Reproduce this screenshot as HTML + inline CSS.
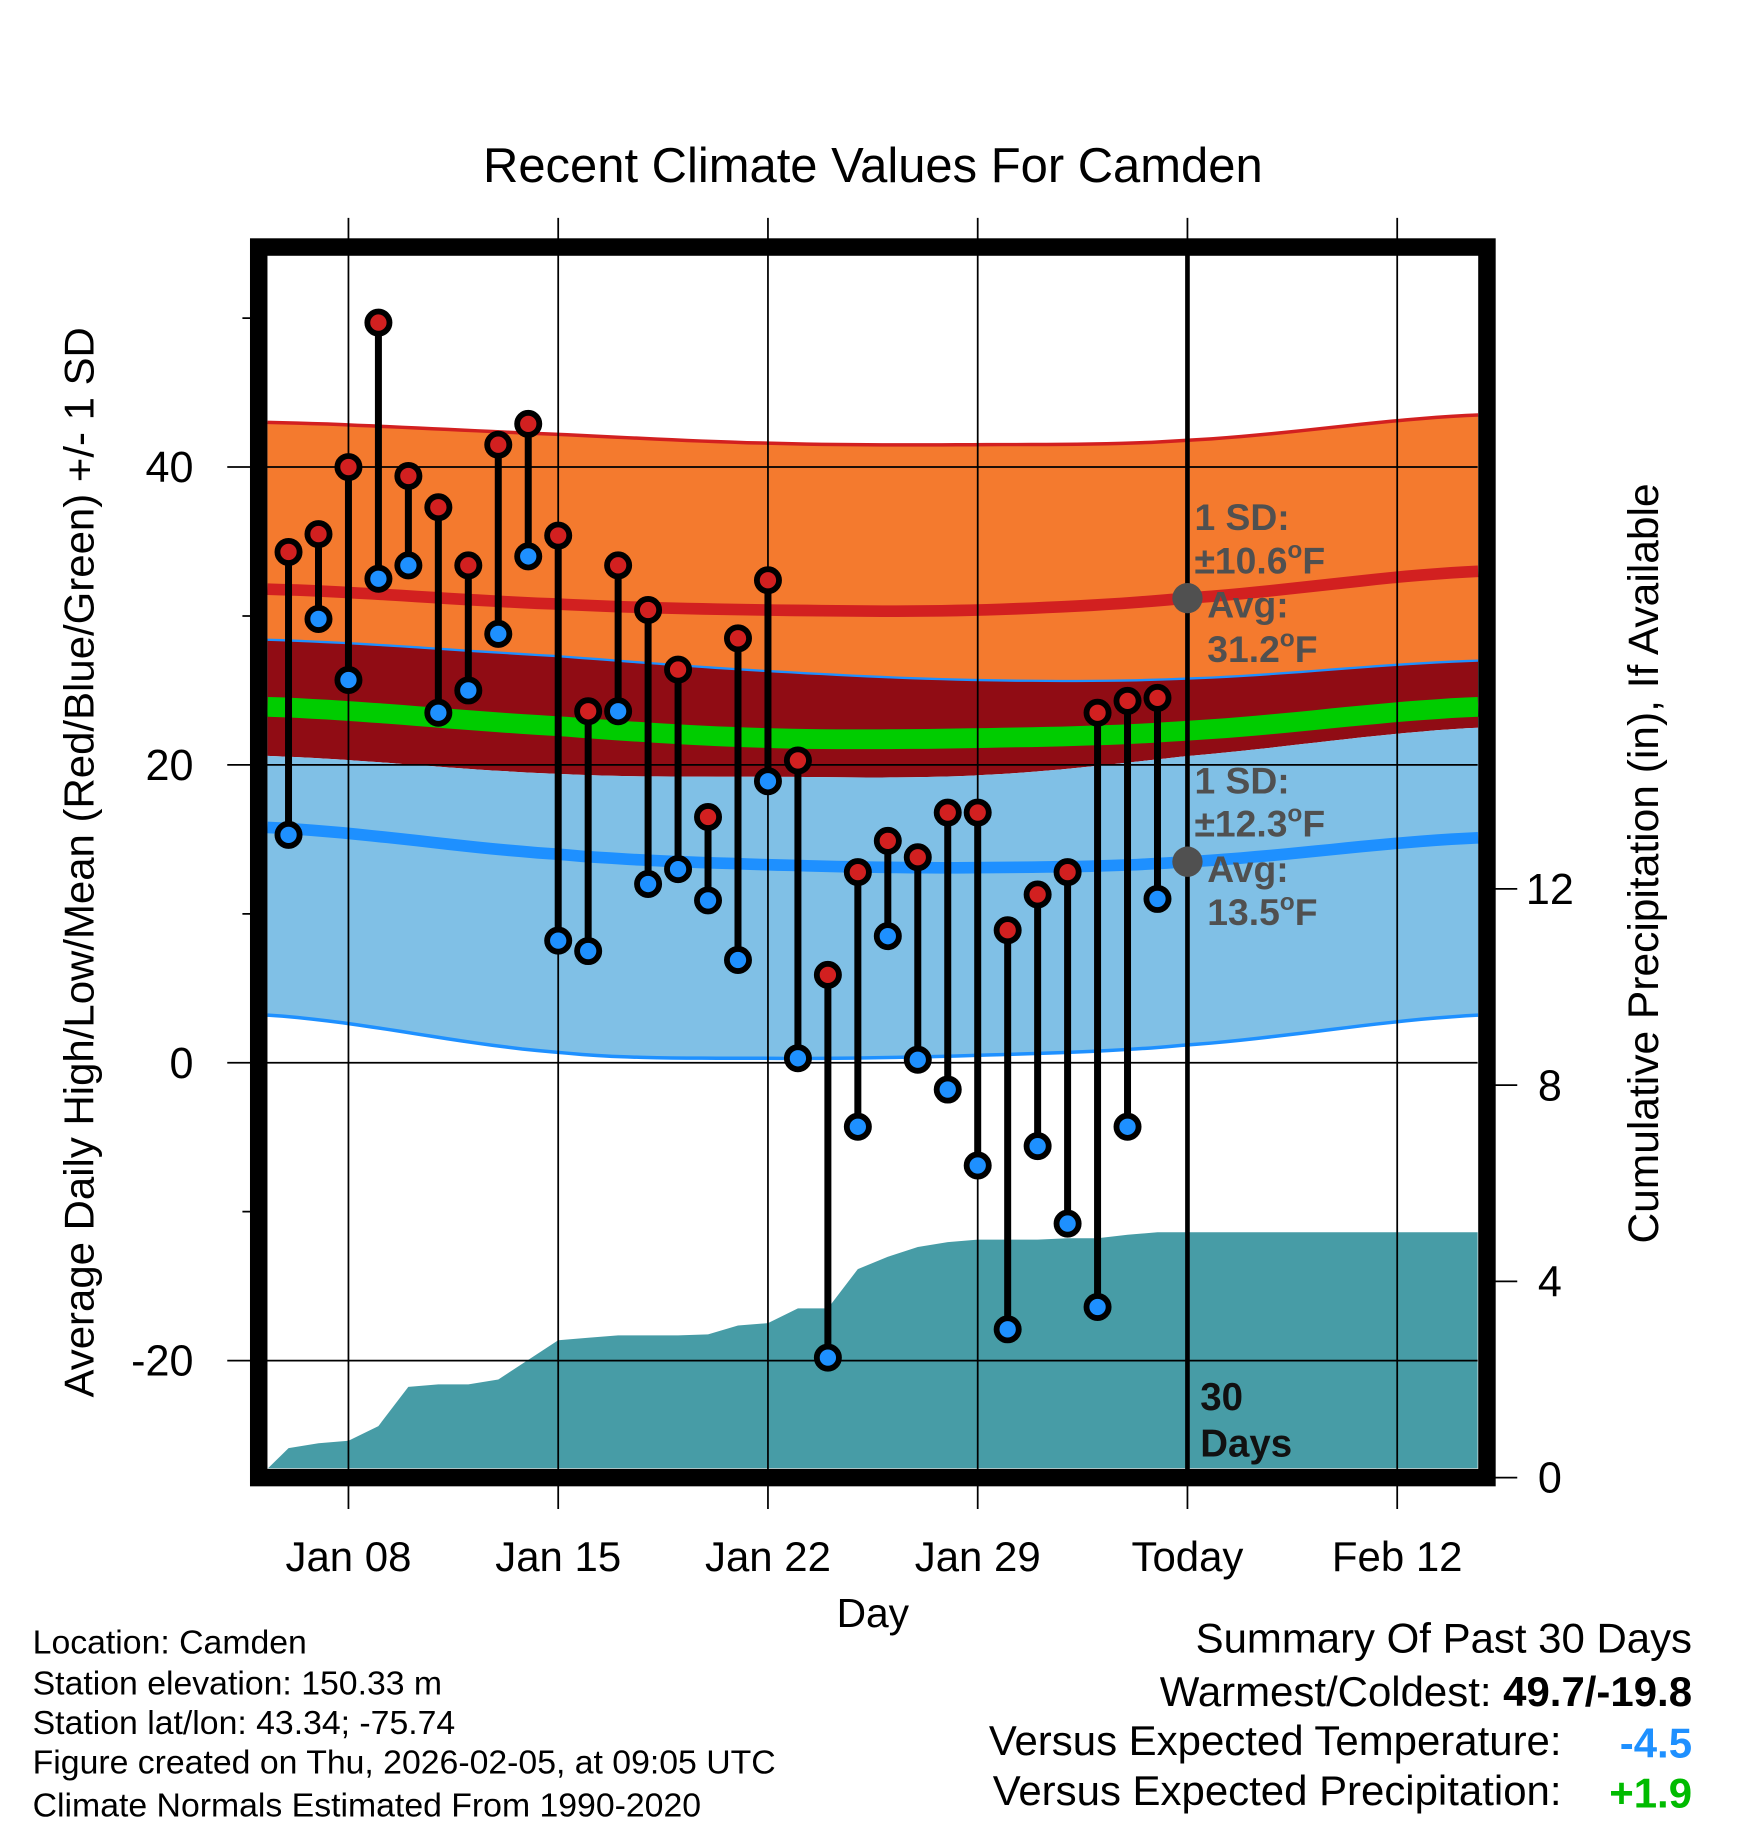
<!DOCTYPE html>
<html><head><meta charset="utf-8"><style>
html,body{margin:0;padding:0;background:#fff;}
svg{display:block;font-family:"Liberation Sans",Arial,sans-serif;}
</style></head><body>
<svg id="chart" width="1748" height="1828" viewBox="0 0 1500 1568.7" xmlns="http://www.w3.org/2000/svg">
<g id="bands"></g>
<g id="precip"></g>
<g id="grid"></g>
<g id="marks"></g>
<g id="ann"></g>
<text x="749" y="156" font-size="42" text-anchor="middle">Recent Climate Values For Camden</text>
<text transform="translate(80,740) rotate(-90)" font-size="36" text-anchor="middle">Average Daily High/Low/Mean (Red/Blue/Green) +/- 1 SD</text>
<text transform="translate(1423,741) rotate(-90)" font-size="36.5" text-anchor="middle">Cumulative Precipitation (in), If Available</text>
<text x="749" y="1396" font-size="35" text-anchor="middle">Day</text>
<g font-size="29">
<text x="28" y="1419">Location: Camden</text>
<text x="28" y="1454">Station elevation: 150.33 m</text>
<text x="28" y="1488">Station lat/lon: 43.34; -75.74</text>
<text x="28" y="1522">Figure created on Thu, 2026-02-05, at 09:05 UTC</text>
<text x="28" y="1559">Climate Normals Estimated From 1990-2020</text>
</g>
<g font-size="36" text-anchor="end">
<text x="1452" y="1418">Summary Of Past 30 Days</text>
<text x="1452" y="1464">Warmest/Coldest: <tspan font-weight="bold">49.7/-19.8</tspan></text>
<text x="1340" y="1506">Versus Expected Temperature:</text>
<text x="1452" y="1508" fill="#1e90ff" font-weight="bold">-4.5</text>
<text x="1340" y="1549">Versus Expected Precipitation:</text>
<text x="1452" y="1551" fill="#00bb00" font-weight="bold">+1.9</text>
</g>
</svg>
<script>
const dayLabels=["Jan 08","Jan 15","Jan 22","Jan 29","Today","Feb 12"];
const labelDays=[7,14,21,28,35,42];
const tempTicks=[40,20,0,-20];
const minorTicks=[50,30,10,-10];
const precipTicks=[0,4,8,12];
const obsDays=[5,6,7,8,9,10,11,12,13,14,15,16,17,18,19,20,21,22,23,24,25,26,27,28,29,30,31,32,33,34];
const highs=[34.3,35.5,40,49.7,39.4,37.3,33.4,41.5,42.9,35.4,23.6,33.4,30.4,26.4,16.5,28.5,32.4,20.3,5.9,12.8,14.9,13.8,16.8,16.8,8.9,11.3,12.8,23.5,24.3,24.5];
const lows=[15.3,29.8,25.7,32.5,33.4,23.5,25.0,28.8,34.0,8.2,7.5,23.6,12.0,13.0,10.9,6.9,18.9,0.3,-19.8,-4.3,8.5,0.2,-1.8,-6.9,-17.9,-5.6,-10.8,-16.4,-4.3,11.0];
const precipCum=[0.6,0.7,0.75,1.05,1.85,1.9,1.9,2.0,2.4,2.8,2.85,2.9,2.9,2.9,2.92,3.1,3.15,3.45,3.45,4.25,4.5,4.7,4.8,4.85,4.85,4.85,4.88,4.88,4.95,5.0];
const normDays=[4.3,14,21,28,35,44.7];
const normHighAvg=[31.8,30.8,30.4,30.4,31.2,33.0];
const normHighSD=[11.2,11.4,11.2,11.1,10.6,10.5];
const normLowAvg=[15.8,14.0,13.3,13.1,13.5,15.1];
const normLowSD=[12.6,13.3,13.0,12.6,12.3,11.9];
const normMean=[23.9,22.6,21.8,21.8,22.3,23.9];

const L=230,R=1268,T=220,B=1260;
const xS=d=>299+(d-7)*25.714;
const yS=t=>912-12.78*t;
const yP=p=>1268-42.1*p;
const NS="http://www.w3.org/2000/svg";
function mk(tag,attrs,parent){const e=document.createElementNS(NS,tag);for(const k in attrs)e.setAttribute(k,attrs[k]);parent.appendChild(e);return e;}
function interp(arr,d){for(let i=0;i<normDays.length-1;i++){if(d<=normDays[i+1]||i==normDays.length-2){const a=normDays[i],b=normDays[i+1];const u=(d-a)/(b-a);
 const p0=arr[Math.max(i-1,0)],p1=arr[i],p2=arr[i+1],p3=arr[Math.min(i+2,arr.length-1)];
 return 0.5*((2*p1)+(-p0+p2)*u+(2*p0-5*p1+4*p2-p3)*u*u+(-p0+3*p1-3*p2+p3)*u*u*u);}}}
const dEnd=normDays[normDays.length-1];
const samp=[];for(let d=normDays[0];d<dEnd;d+=0.5)samp.push(d);samp.push(dEnd);
function curve(f){return samp.map(d=>[xS(d),yS(f(d))]);}
function poly(top,bot){return top.concat(bot.slice().reverse()).map(p=>p[0].toFixed(1)+","+p[1].toFixed(1)).join(" ");}
function line(pts){return pts.map(p=>p[0].toFixed(1)+","+p[1].toFixed(1)).join(" ");}
const hU=curve(d=>interp(normHighAvg,d)+interp(normHighSD,d));
const hL=curve(d=>interp(normHighAvg,d)-interp(normHighSD,d));
const lU=curve(d=>interp(normLowAvg,d)+interp(normLowSD,d));
const lL=curve(d=>interp(normLowAvg,d)-interp(normLowSD,d));
const bands=document.getElementById('bands');
let e;
e=mk('polygon',{points:poly(hU,lU),fill:'#f47a2e'},bands);


e=mk('polygon',{points:poly(lU,hL),fill:'#900c14'},bands);


e=mk('polygon',{points:poly(hL,lL),fill:'#80c0e6'},bands);


mk('polyline',{points:line(hU),fill:'none',stroke:'#d22020','stroke-width':3},bands);
mk('polyline',{points:line(lU),fill:'none',stroke:'#1e90ff','stroke-width':2},bands);
mk('polyline',{points:line(lL),fill:'none',stroke:'#1e90ff','stroke-width':3},bands);
e=mk('polyline',{points:line(curve(d=>interp(normMean,d))),fill:'none',stroke:'#00cc00','stroke-width':17},bands);


e=mk('polyline',{points:line(curve(d=>interp(normHighAvg,d))),fill:'none',stroke:'#d22020','stroke-width':10},bands);


e=mk('polyline',{points:line(curve(d=>interp(normLowAvg,d))),fill:'none',stroke:'#1e90ff','stroke-width':10},bands);



const pg=document.getElementById('precip');
let pts=[[L,B],[L,yP(0)-8]];
obsDays.forEach((d,i)=>pts.push([xS(d),yP(precipCum[i])]));
pts.push([R,yP(precipCum[precipCum.length-1])]);pts.push([R,B]);
e=mk('polygon',{points:line(pts),fill:'#479ca6'},pg);



const g=document.getElementById('grid');
labelDays.forEach((d,i)=>{const x=xS(d);
 mk('line',{x1:x,x2:x,y1:187,y2:1295,stroke:'#000','stroke-width':1.5},g);
 e=mk('text',{x:x,y:1348,'font-size':36,'text-anchor':'middle'},g);e.textContent=dayLabels[i];
 
 
});
tempTicks.forEach(t=>{const y=yS(t);
 mk('line',{x1:195,x2:R,y1:y,y2:y,stroke:'#000','stroke-width':1.5},g);
 e=mk('text',{x:166,y:y+13,'font-size':37,'text-anchor':'end'},g);e.textContent=t;
 
 
});
minorTicks.forEach(t=>{const y=yS(t);mk('line',{x1:208,x2:222,y1:y,y2:y,stroke:'#000','stroke-width':1.5},g);});
precipTicks.forEach(p=>{const y=yP(p);
 mk('line',{x1:1276,x2:1302,y1:y,y2:y,stroke:'#000','stroke-width':1.5},g);
 e=mk('text',{x:1330,y:y+13,'font-size':37,'text-anchor':'middle'},g);e.textContent=p;
 
 
});
e=mk('line',{x1:xS(35),x2:xS(35),y1:212,y2:1268,stroke:'#000','stroke-width':4},g);


e=mk('rect',{x:222,y:212,width:1054,height:1056,fill:'none',stroke:'#000','stroke-width':15},g);



const m=document.getElementById('marks');
obsDays.forEach((d,i)=>{const x=xS(d);
 mk('line',{x1:x,x2:x,y1:yS(highs[i]),y2:yS(lows[i]),stroke:'#000','stroke-width':6},m);
 e=mk('circle',{cx:x,cy:yS(highs[i]),r:9.5,fill:'#d22020',stroke:'#000','stroke-width':5},m);
 
 
 e=mk('circle',{cx:x,cy:yS(lows[i]),r:9.5,fill:'#1e90ff',stroke:'#000','stroke-width':5},m);
 
 
});

const a=document.getElementById('ann');const tx=xS(35);
mk('circle',{cx:tx,cy:yS(31.2),r:13,fill:'#505050'},a);
mk('circle',{cx:tx,cy:yS(13.5),r:13,fill:'#505050'},a);
function txt(x,y,s,fs,fill){const t=mk('text',{x:x,y:y,'font-size':fs,'font-weight':'bold',fill:fill},a);t.innerHTML=s;return t;}
e=txt(1025,455,'1 SD:',32,'#505050');


txt(1025,492,'±10.6<tspan font-size="21" dy="-13">o</tspan><tspan dy="13">F</tspan>',32,'#505050');
txt(1036,530,'Avg:',32,'#505050');
txt(1036,568,'31.2<tspan font-size="21" dy="-13">o</tspan><tspan dy="13">F</tspan>',32,'#505050');
e=txt(1025,681,'1 SD:',32,'#505050');


txt(1025,718,'±12.3<tspan font-size="21" dy="-13">o</tspan><tspan dy="13">F</tspan>',32,'#505050');
txt(1036,757,'Avg:',32,'#505050');
txt(1036,794,'13.5<tspan font-size="21" dy="-13">o</tspan><tspan dy="13">F</tspan>',32,'#505050');
e=txt(1030,1210,'30',33,'#111');


txt(1030,1250,'Days',33,'#111');
</script>
</body></html>
